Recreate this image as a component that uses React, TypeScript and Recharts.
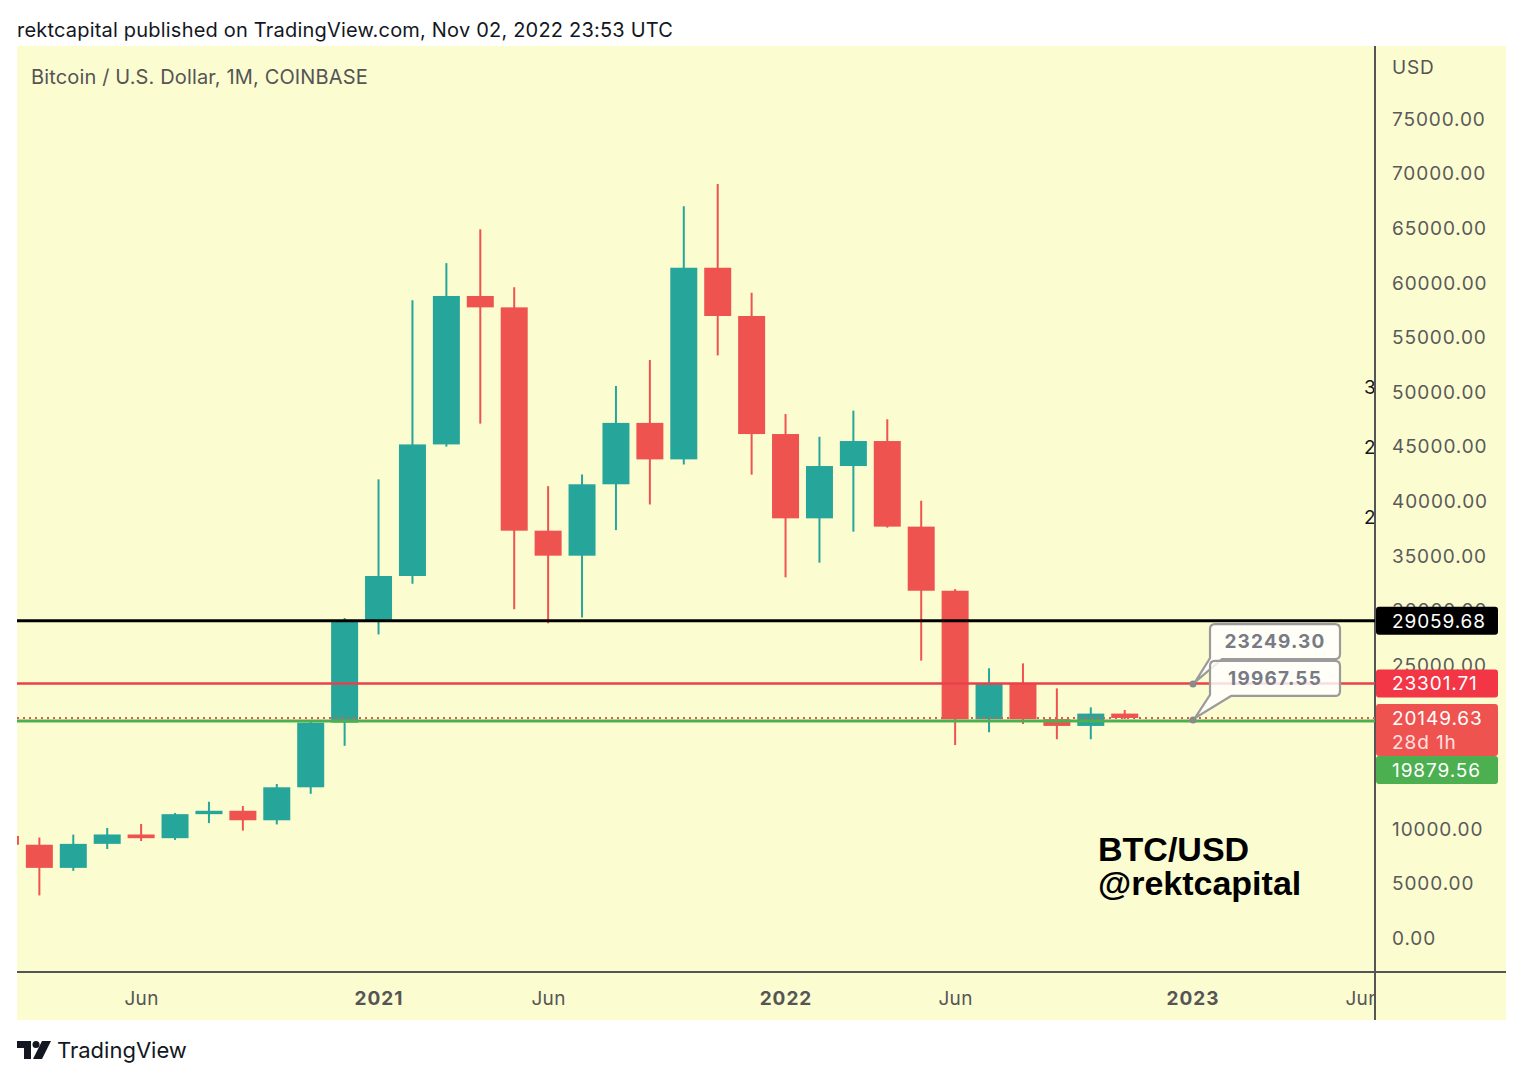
import React from "react";
import {
  ComposedChart,
  Bar,
  XAxis,
  YAxis,
  ReferenceLine,
  ReferenceDot,
} from "recharts";

// monthly candles, Feb 2020 .. Nov 2022 (COINBASE BTC/USD)
const months = [
  "Feb 2020", "Mar 2020", "Apr 2020", "May 2020", "Jun 2020", "Jul 2020",
  "Aug 2020", "Sep 2020", "Oct 2020", "Nov 2020", "Dec 2020", "Jan 2021",
  "Feb 2021", "Mar 2021", "Apr 2021", "May 2021", "Jun 2021", "Jul 2021",
  "Aug 2021", "Sep 2021", "Oct 2021", "Nov 2021", "Dec 2021", "Jan 2022",
  "Feb 2022", "Mar 2022", "Apr 2022", "May 2022", "Jun 2022", "Jul 2022",
  "Aug 2022", "Sep 2022", "Oct 2022", "Nov 2022",
];
const opens = [
  9350, 8540, 6420, 8620, 9480, 9140, 11340, 11650, 10780, 13800, 19720, 28990,
  33150, 45200, 58790, 57750, 37300, 35010, 41550, 47170, 43830, 61380, 56960, 46150,
  38430, 43220, 45510, 37670, 31800, 20030, 23320, 20040, 19420, 20550,
];
const highs = [
  10500, 9200, 9470, 10080, 10440, 11450, 12480, 12080, 14100, 19880, 29300, 42000,
  58400, 61800, 64900, 59600, 41380, 42450, 50550, 52930, 67000, 69050, 59090, 47980,
  45900, 48290, 47500, 40040, 31950, 24700, 25150, 22860, 21120, 20880,
];
const lows = [
  8450, 3900, 6150, 8150, 8880, 8980, 10520, 9830, 10400, 13200, 17600, 27800,
  32450, 45000, 47100, 30100, 28820, 29350, 37350, 39700, 43350, 53350, 42430, 33030,
  34370, 37210, 37580, 25400, 17670, 18840, 19600, 18200, 18200, 20050,
];
const closes = [
  8540, 6420, 8620, 9480, 9140, 11340, 11650, 10780, 13800, 19720, 28990, 33150,
  45200, 58790, 57750, 37300, 35010, 41550, 47170, 43830, 61380, 56960, 46150, 38430,
  43220, 45510, 37670, 31800, 20030, 23320, 20040, 19420, 20550, 20149.63,
];

// month index 0 = Jan 2021
const xTicks = [-7, 0, 5, 12, 17, 24, 29];
const xTickLabels = ["Jun", "2021", "Jun", "2022", "Jun", "2023", "Jun"];
// 15000 and 20000 sit fully behind the price tags, so they are left out
const yTicks = [0, 5000, 10000, 25000, 30000, 35000, 40000, 45000, 50000, 55000, 60000, 65000, 70000, 75000];

const priceLevels = [29059.68, 23301.71, 19879.56];
const lastPrice = 20149.63;
const countdown = "28d 1h";
const calloutMonth = 24;
const calloutValues = [23249.3, 19967.55];

const X_DOMAIN: [number, number] = [-10.673, 29.366];
const Y_DOMAIN: [number, number] = [-3114, 81685];

const BG = "#fcfcd1";
const UP = "#26a69a";
const DOWN = "#ef5350";
const FONT = "Inter, 'Liberation Sans', Arial, sans-serif";

const candles = months.map((label, i) => ({
  label,
  m: i - 11,
  open: opens[i],
  high: highs[i],
  low: lows[i],
  close: closes[i],
  range: [lows[i], highs[i]],
}));

const Candle = (props: any) => {
  const { x, y, width, height, payload } = props;
  if (x == null || y == null || !payload) return null;
  const top = Math.min(y, y + height);
  const h = Math.abs(height);
  const { open, high, low, close } = payload;
  const k = high === low ? 0 : h / (high - low);
  const yOf = (v: number) => top + (high - v) * k;
  const cx = x + width / 2;
  const color = close >= open ? UP : DOWN;
  const bTop = yOf(Math.max(open, close));
  const bBot = yOf(Math.min(open, close));
  return (
    <g>
      <line x1={cx} x2={cx} y1={top} y2={top + h} stroke={color} strokeWidth={2} />
      <rect x={cx - 13.5} y={bTop} width={27} height={Math.max(bBot - bTop, 2)} fill={color} />
    </g>
  );
};

const XTick = (props: any) => {
  const { x, y, payload } = props;
  const label = xTickLabels[xTicks.indexOf(payload.value)];
  const bold = /^\d{4}$/.test(label);
  return (
    <text
      x={x}
      y={y}
      dy="0.36em"
      textAnchor="middle"
      fill="#555555"
      fontSize={19}
      fontWeight={bold ? 700 : 400}
      letterSpacing={bold ? 1 : 0.3}
      fontFamily={FONT}
    >
      {label}
    </text>
  );
};

const YTick = (props: any) => {
  const { x, y, payload } = props;
  return (
    <text x={x} y={y} dy="0.36em" textAnchor="start" fill="#5a5a5a" fontSize={19} letterSpacing={0.9} fontFamily={FONT}>
      {Number(payload.value).toFixed(2)}
    </text>
  );
};

const PriceTag = (props: any) => {
  const { viewBox, text, sub, fill, shift = 0 } = props;
  if (!viewBox) return null;
  const right = viewBox.x + viewBox.width;
  const cy = viewBox.y + (viewBox.height || 0) / 2 + shift;
  const h = sub ? 52 : 28;
  return (
    <g>
      <rect x={right + 1} y={cy - 14} width={122} height={h} rx={3} fill={fill} />
      <text x={right + 17} y={cy} dy="0.36em" fill="#ffffff" fontSize={19} letterSpacing={0.9} fontFamily={FONT}>
        {text}
      </text>
      {sub ? (
        <text x={right + 17} y={cy + 24} dy="0.36em" fill="#ffe0e0" fontSize={19} letterSpacing={0.9} fontFamily={FONT}>
          {sub}
        </text>
      ) : null}
    </g>
  );
};

const Callout = (props: any) => {
  const { cx, cy, text, boxDy, tailW } = props;
  if (cx == null || cy == null) return null;
  const bx = cx + 17;
  const by = cy + boxDy;
  const bw = 130;
  const bh = 35;
  const r = 5;
  const d = [
    `M${bx + r},${by}`,
    `H${bx + bw - r}`,
    `Q${bx + bw},${by} ${bx + bw},${by + r}`,
    `V${by + bh - r}`,
    `Q${bx + bw},${by + bh} ${bx + bw - r},${by + bh}`,
    `H${bx + tailW}`,
    `L${cx + 2},${cy - 2}`,
    `L${bx},${by + bh - 1}`,
    `V${by + r}`,
    `Q${bx},${by} ${bx + r},${by}`,
    "Z",
  ].join(" ");
  return (
    <g>
      <path d={d} fill="rgba(255,255,255,0.82)" stroke="#9b9b9b" strokeWidth={2.2} strokeLinejoin="round" />
      <circle cx={cx} cy={cy} r={3.5} fill="#8a8a8a" />
      <text
        x={bx + bw / 2}
        y={by + bh / 2}
        dy="0.36em"
        textAnchor="middle"
        fill="#787b86"
        fontSize={19}
        fontWeight={700}
        letterSpacing={1.2}
        fontFamily={FONT}
      >
        {text}
      </text>
    </g>
  );
};

const abs = (left: number, top: number, extra: React.CSSProperties = {}): React.CSSProperties => ({
  position: "absolute",
  left,
  top,
  whiteSpace: "nowrap",
  ...extra,
});

export default function App() {
  return (
    <div
      style={{
        position: "absolute",
        left: 0,
        top: 0,
        width: 1524,
        height: 1080,
        background: "#ffffff",
        fontFamily: FONT,
        overflow: "hidden",
      }}
    >
      <div style={abs(17, 18, { fontSize: 20, lineHeight: "24px", color: "#131722", letterSpacing: 0.2 })}>
        rektcapital published on TradingView.com, Nov 02, 2022 23:53 UTC
      </div>
      <div style={abs(17, 46, { width: 1489, height: 974, background: BG })} />

      {/* candles and axes */}
      <div style={abs(17, 46)}>
        <ComposedChart width={1489} height={974} data={candles} margin={{ top: 0, right: 0, bottom: 0, left: 0 }}>
          <XAxis
            type="number"
            dataKey="m"
            domain={X_DOMAIN}
            allowDataOverflow
            ticks={xTicks}
            interval={0}
            height={48}
            axisLine={{ stroke: "#555555", strokeWidth: 2 }}
            tickLine={false}
            tickSize={6}
            tickMargin={20}
            tick={<XTick />}
          />
          <YAxis
            orientation="right"
            width={131}
            domain={Y_DOMAIN}
            allowDataOverflow
            ticks={yTicks}
            interval={0}
            axisLine={{ stroke: "#555555", strokeWidth: 2 }}
            tickLine={false}
            tickSize={6}
            tickMargin={11}
            tick={<YTick />}
          />
          <Bar dataKey="range" barSize={27} shape={Candle} isAnimationActive={false} />
        </ComposedChart>
      </div>

      {/* price levels, tags and callouts drawn above the price scale */}
      <div style={abs(17, 46)}>
        <ComposedChart width={1489} height={974} data={candles} margin={{ top: 0, right: 131, bottom: 48, left: 0 }}>
          <XAxis type="number" dataKey="m" domain={X_DOMAIN} allowDataOverflow hide height={0} />
          <YAxis orientation="right" domain={Y_DOMAIN} allowDataOverflow hide width={0} />
          <ReferenceLine
            y={priceLevels[0]}
            stroke="#000000"
            strokeWidth={3}
            label={<PriceTag text={priceLevels[0].toFixed(2)} fill="#000000" />}
          />
          <ReferenceLine
            y={priceLevels[1]}
            stroke="#e8404c"
            strokeWidth={2.5}
            label={<PriceTag text={priceLevels[1].toFixed(2)} fill="#f23645" />}
          />
          <ReferenceLine
            y={priceLevels[2]}
            stroke="#4caf50"
            strokeWidth={3}
            label={<PriceTag text={priceLevels[2].toFixed(2)} fill="#4caf50" shift={49} />}
          />
          <ReferenceLine
            y={lastPrice}
            stroke={DOWN}
            strokeWidth={2}
            strokeDasharray="2 4"
            label={<PriceTag text={lastPrice.toFixed(2)} sub={countdown} fill={DOWN} />}
          />
          {calloutValues.map((v, i) => (
            <ReferenceDot
              key={v}
              x={calloutMonth}
              y={v}
              r={3.5}
              shape={(p: any) => (
                <Callout {...p} text={v.toFixed(2)} boxDy={i === 0 ? -60 : -59} tailW={i === 0 ? 12 : 21} />
              )}
            />
          ))}
        </ComposedChart>
      </div>

      {/* axis corner under the price scale */}
      <div
        style={abs(1374, 971, {
          width: 132,
          height: 49,
          background: BG,
          borderTop: "2px solid #555555",
          borderLeft: "2px solid #555555",
          boxSizing: "border-box",
        })}
      />
      <div style={abs(31, 65, { fontSize: 20, lineHeight: "24px", color: "#555555", letterSpacing: 0.15 })}>
        Bitcoin / U.S. Dollar, 1M, COINBASE
      </div>
      <div style={abs(1392, 56, { fontSize: 19, lineHeight: "24px", color: "#555555", letterSpacing: 0.8 })}>USD</div>
      {[
        ["3", 376],
        ["2", 436],
        ["2", 506],
      ].map(([t, top], i) => (
        <div key={i} style={abs(1364, top as number, { width: 10, overflow: "hidden", fontSize: 19, lineHeight: "24px", color: "#131722" })}>
          {t}
        </div>
      ))}
      <div style={abs(1098, 832, { fontSize: 34, lineHeight: "34px", fontWeight: 700, color: "#000000", fontFamily: "'Liberation Sans', Arial, sans-serif" })}>
        BTC/USD
        <br />
        @rektcapital
      </div>
      <svg style={abs(17, 1041)} width={34} height={18} viewBox="0 0 34 18">
        <path d="M0 0 H14 V18 H7 V7 H0 Z" fill="#131722" />
        <circle cx={19} cy={3.5} r={3.5} fill="#131722" />
        <path d="M25 0 H34 L25 18 H16 Z" fill="#131722" />
      </svg>
      <div style={abs(57, 1037, { fontSize: 22, lineHeight: "26px", color: "#131722" })}>TradingView</div>
    </div>
  );
}
